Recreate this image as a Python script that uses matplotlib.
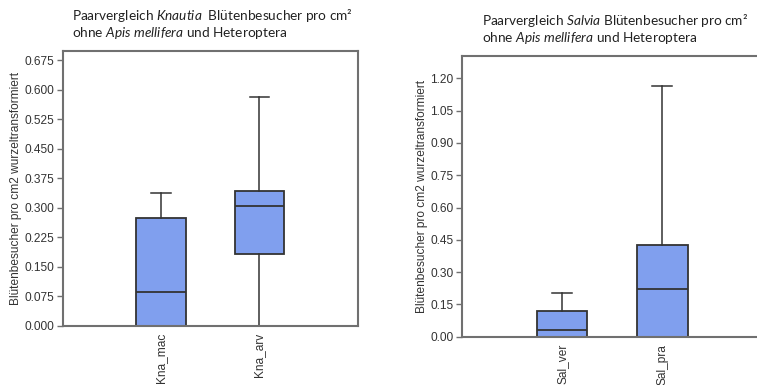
import matplotlib
matplotlib.use("Agg")
import matplotlib.pyplot as plt

# Knautia pair comparison (square-root transformed visitors per cm2)
kna_labels = ["Kna_mac", "Kna_arv"]
kna_min = [0.0, 0.0]
kna_q1 = [0.0, 0.182]
kna_med = [0.087, 0.305]
kna_q3 = [0.274, 0.343]
kna_max = [0.337, 0.581]
kna_ticks = [0.000, 0.075, 0.150, 0.225, 0.300, 0.375, 0.450, 0.525, 0.600, 0.675]

# Salvia pair comparison
sal_labels = ["Sal_ver", "Sal_pra"]
sal_min = [0.0, 0.0]
sal_q1 = [0.0, 0.0]
sal_med = [0.033, 0.222]
sal_q3 = [0.119, 0.427]
sal_max = [0.202, 1.164]
sal_ticks = [0.00, 0.15, 0.30, 0.45, 0.60, 0.75, 0.90, 1.05, 1.20]

plt.rcParams["mathtext.fontset"] = "custom"
plt.rcParams["mathtext.rm"] = "Lato"
plt.rcParams["mathtext.it"] = "Lato:italic"

BOX_FACE = "#809FEE"
EDGE = "#333333"
SPINE = "#707070"
TEXT = "#333333"
TICKFONT = dict(family="Liberation Sans", size=8.6)

fig = plt.figure(figsize=(7.57, 3.85), dpi=100)


def draw(ax, labels, lo, q1, med, q3, hi, ticks, fmt, ymax):
    stats = [dict(label=l, whislo=a, q1=b, med=c, q3=d, whishi=e, fliers=[])
             for l, a, b, c, d, e in zip(labels, lo, q1, med, q3, hi)]
    ax.bxp(stats, positions=[1, 2], widths=0.5, capwidths=0.2,
           patch_artist=True, showfliers=False,
           boxprops=dict(facecolor=BOX_FACE, edgecolor=EDGE, linewidth=1.3),
           medianprops=dict(color=EDGE, linewidth=1.3),
           whiskerprops=dict(color=EDGE, linewidth=1.1),
           capprops=dict(color=EDGE, linewidth=1.1))
    ax.set_xlim(0, 3)
    ax.set_ylim(0, ymax)
    ax.set_yticks(ticks)
    ax.set_yticklabels([fmt.format(t) for t in ticks], **TICKFONT, color=TEXT)
    ax.set_xticks([1, 2])
    ax.set_xticklabels(labels, rotation=90, **TICKFONT, color=TEXT)
    ax.tick_params(axis="x", length=0, pad=5)
    ax.tick_params(axis="y", length=4, width=1, color=SPINE, pad=2)
    for s in ax.spines.values():
        s.set_color(SPINE)
        s.set_linewidth(1.5)
    ax.set_ylabel("Blütenbesucher pro cm2 wurzeltransformiert",
                  family="Liberation Sans", size=8.6, color=TEXT, labelpad=2)


ax1 = fig.add_axes([0.0828, 0.154, 0.3897, 0.7135])
draw(ax1, kna_labels, kna_min, kna_q1, kna_med, kna_q3, kna_max,
     kna_ticks, "{:.3f}", 0.699)

ax2 = fig.add_axes([0.610, 0.1255, 0.3976, 0.729])
draw(ax2, sal_labels, sal_min, sal_q1, sal_med, sal_q3, sal_max,
     sal_ticks, "{:.2f}", 1.304)
ax2.spines["right"].set_visible(False)

title_kw = dict(fontsize=9.8, color="#222222", family="Lato", va="baseline", ha="left")
fig.text(72 / 757, 1 - 20.5 / 385,
         r"Paarvergleich $\mathit{Knautia}$  Blütenbesucher pro cm²", **title_kw)
fig.text(72 / 757, 1 - 37 / 385,
         r"ohne $\mathit{Apis\ mellifera}$ und Heteroptera", **title_kw)
fig.text(482 / 757, 1 - 25 / 385,
         r"Paarvergleich $\mathit{Salvia}$ Blütenbesucher pro cm²", **title_kw)
fig.text(482 / 757, 1 - 42 / 385,
         r"ohne $\mathit{Apis\ mellifera}$ und Heteroptera", **title_kw)

fig.savefig("out.png", dpi=100)
